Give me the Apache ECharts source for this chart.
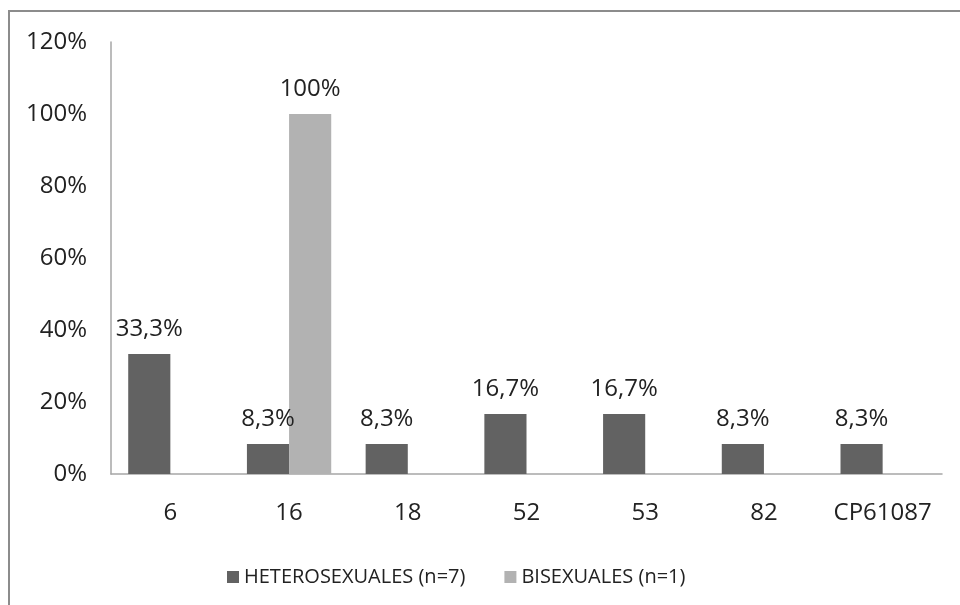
<!DOCTYPE html>
<html>
<head>
<meta charset="utf-8">
<script src="https://cdn.jsdelivr.net/npm/echarts@6/dist/echarts.min.js"></script>
<style>
  html, body { margin: 0; padding: 0; background: #fff; }
  #chart { width: 960px; height: 605px; }
</style>
</head>
<body>
<div id="chart"></div>
<script>
const categories = ['6', '16', '18', '52', '53', '82', 'CP61087'];
const heterosexuales = [33.3, 8.3, 8.3, 16.7, 16.7, 8.3, 8.3];
const bisexuales = [0, 100, 0, 0, 0, 0, 0];
const seriesNames = ['HETEROSEXUALES (n=7)', 'BISEXUALES (n=1)'];

const FONT = "'Open Sans', sans-serif";
const TEXT = '#222222';

function fmtPct(v) {
  const s = (Math.round(v * 10) / 10).toString().replace('.', ',');
  return s + '%';
}

const labelCfg = {
  show: true,
  position: 'top',
  distance: 13,
  color: TEXT,
  fontFamily: FONT,
  fontSize: 24,
  formatter: p => (p.value === 0 ? '' : fmtPct(p.value))
};

const chart = echarts.init(document.getElementById('chart'), null, { renderer: 'canvas' });
chart.setOption({
  backgroundColor: '#ffffff',
  animation: false,
  textStyle: { fontFamily: FONT },
  graphic: [{
    type: 'rect',
    shape: { x: 9, y: 11, width: 1000, height: 700 },
    style: { fill: 'none', stroke: '#8c8c8c', lineWidth: 2 },
    silent: true
  }],
  grid: { left: 111, right: 18, top: 42, bottom: 131, containLabel: false },
  legend: {
    data: seriesNames,
    left: 222,
    top: 562,
    itemWidth: 12,
    itemHeight: 12,
    itemGap: 39,
    icon: 'rect',
    textStyle: { color: TEXT, fontFamily: FONT, fontSize: 20 }
  },
  xAxis: {
    type: 'category',
    data: categories,
    axisLine: { lineStyle: { color: '#a6a6a6', width: 1.5 } },
    axisTick: { show: false },
    axisLabel: { color: TEXT, fontFamily: FONT, fontSize: 24, margin: 27, interval: 0 }
  },
  yAxis: {
    type: 'value',
    min: 0,
    max: 120,
    interval: 20,
    axisLine: { show: true, lineStyle: { color: '#a6a6a6', width: 1.5 } },
    axisTick: { show: false },
    splitLine: { show: false },
    axisLabel: { color: TEXT, fontFamily: FONT, fontSize: 24, margin: 24, formatter: v => v + '%' }
  },
  series: [
    {
      name: seriesNames[0],
      type: 'bar',
      data: heterosexuales,
      barGap: '0%',
      barCategoryGap: '29%',
      itemStyle: { color: '#626262' },
      label: labelCfg
    },
    {
      name: seriesNames[1],
      type: 'bar',
      data: bisexuales,
      barGap: '0%',
      barCategoryGap: '29%',
      itemStyle: { color: '#b2b2b2' },
      label: labelCfg
    }
  ]
});
</script>
</body>
</html>
